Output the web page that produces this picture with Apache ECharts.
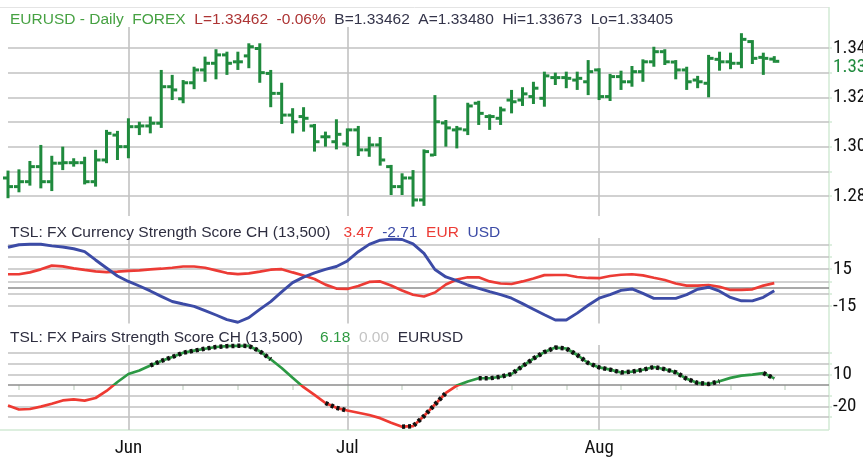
<!DOCTYPE html>
<html>
<head>
<meta charset="utf-8">
<script src="https://cdn.jsdelivr.net/npm/echarts@6/dist/echarts.min.js"></script>
<style>
html, body { margin: 0; padding: 0; background: #fff; }
#main { width: 863px; height: 462px; }
</style>
</head>
<body>
<div id="main"></div>
<script>
// trading days, 2013-05-17 .. 2013-08-30 (last 5 are empty space on the right)
var days = ['05-17','05-20','05-21','05-22','05-23','05-24','05-27','05-28','05-29','05-30','05-31',
  '06-03','06-04','06-05','06-06','06-07','06-10','06-11','06-12','06-13','06-14',
  '06-17','06-18','06-19','06-20','06-21','06-24','06-25','06-26','06-27','06-28',
  '07-01','07-02','07-03','07-04','07-05','07-08','07-09','07-10','07-11','07-12',
  '07-15','07-16','07-17','07-18','07-19','07-22','07-23','07-24','07-25','07-26',
  '07-29','07-30','07-31','08-01','08-02','08-05','08-06','08-07','08-08','08-09',
  '08-12','08-13','08-14','08-15','08-16','08-19','08-20','08-21','08-22','08-23',
  '08-26','08-27','08-28','08-29','08-30'];

var open = [1.2873,1.2838,1.2858,1.2919,1.2858,1.2933,1.2935,1.2935,1.2858,1.2946,
  1.3047,1.3000,1.3081,1.3084,1.3095,1.3243,1.3194,1.3259,1.3311,1.3338,
  1.3372,1.3344,1.3368,1.3398,1.3297,1.3216,1.3128,1.3122,1.3084,1.3040,
  1.3020,1.3011,1.3068,1.2987,1.3007,1.2919,1.2838,1.2873,1.2784,1.2966,
  1.3096,1.3068,1.3068,1.3176,1.3122,1.3115,1.3189,1.3189,1.3203,1.3196,
  1.3280,1.3280,1.3270,1.3263,1.3311,1.3203,1.3284,1.3263,1.3304,1.3344,
  1.3385,1.3343,1.3311,1.3270,1.3257,1.3354,1.3344,1.3338,1.3426,1.3362,
  1.3355];
var high = [1.2903,1.2908,1.2942,1.3007,1.2963,1.3000,1.2953,1.2959,1.2987,1.3068,
  1.3064,1.3115,1.3101,1.3122,1.3311,1.3291,1.3270,1.3324,1.3365,1.3395,
  1.3385,1.3385,1.3419,1.3419,1.3311,1.3259,1.3156,1.3160,1.3092,1.3061,
  1.3111,1.3074,1.3084,1.3040,1.3039,1.2926,1.2892,1.2905,1.2989,1.3209,
  1.3108,1.3084,1.3178,1.3186,1.3131,1.3162,1.3230,1.3241,1.3263,1.3304,
  1.3300,1.3304,1.3304,1.3351,1.3318,1.3295,1.3308,1.3327,1.3354,1.3405,
  1.3395,1.3351,1.3324,1.3287,1.3372,1.3385,1.3381,1.3460,1.3432,1.3381,
  1.3367];
var low = [1.2791,1.2815,1.2842,1.2831,1.2820,1.2905,1.2919,1.2847,1.2838,1.2933,
  1.2946,1.2953,1.3047,1.3054,1.3076,1.3189,1.3176,1.3233,1.3263,1.3273,
  1.3291,1.3311,1.3318,1.3259,1.3160,1.3092,1.3054,1.3061,1.2980,1.3000,
  1.2989,1.3000,1.2962,1.2959,1.2923,1.2804,1.2804,1.2757,1.2760,1.2962,
  1.3000,1.2993,1.3047,1.3088,1.3068,1.3088,1.3135,1.3165,1.3173,1.3162,
  1.3250,1.3237,1.3230,1.3209,1.3189,1.3185,1.3230,1.3243,1.3263,1.3324,
  1.3331,1.3273,1.3230,1.3237,1.3200,1.3308,1.3314,1.3318,1.3335,1.3291,
  1.3340];
var close = [1.2838,1.2858,1.2919,1.2858,1.2933,1.2935,1.2935,1.2858,1.2946,1.3054,
  1.3000,1.3081,1.3084,1.3095,1.3243,1.3230,1.3259,1.3311,1.3338,1.3372,
  1.3338,1.3344,1.3405,1.3300,1.3216,1.3128,1.3101,1.3115,1.3020,1.3040,
  1.3050,1.3068,1.2987,1.3007,1.2946,1.2838,1.2873,1.2784,1.2980,1.3101,
  1.3076,1.3072,1.3165,1.3135,1.3122,1.3149,1.3182,1.3214,1.3237,1.3287,
  1.3280,1.3277,1.3277,1.3304,1.3203,1.3284,1.3263,1.3304,1.3344,1.3385,
  1.3344,1.3311,1.3263,1.3263,1.3358,1.3344,1.3338,1.3435,1.3358,1.3358,
  1.3346];

// currency strength
var eur = [10.7,10.7,12.2,14.7,17.7,17.1,15.5,14.2,13.0,12.4,
  12.8,13.4,13.8,14.7,15.2,16.0,17.0,17.0,16.0,13.9,
  11.7,10.8,11.4,12.8,14.4,14.8,12.2,9.7,6.9,2.3,
  -0.9,-1.2,1.2,4.5,4.9,1.6,-2.4,-5.9,-7.3,-4.1,
  2.4,6.5,8.3,8.2,4.9,3.2,2.8,4.9,7.3,10.0,
  10.1,10.1,8.5,7.7,7.5,9.3,10.3,10.7,9.8,7.9,
  6.1,3.2,1.5,1.5,2.0,0.6,-2.0,-2.0,-1.5,1.5,
  3.47];
var usd = [32.6,34.6,35.0,35.0,33.7,32.8,31.4,29.0,22.3,15.8,
  9.3,4.9,1.2,-2.8,-7.2,-11.4,-13.4,-15.3,-18.8,-22.3,
  -26.0,-28.2,-24.5,-17.8,-11.5,-3.6,3.9,8.4,11.8,14.6,
  17.0,21.5,29.0,34.9,38.3,39.2,38.9,35.3,27.6,14.6,
  8.5,5.5,2.0,-0.7,-3.4,-5.8,-8.7,-13.1,-17.6,-22.1,
  -26.4,-26.4,-20.8,-14.4,-8.7,-5.8,-2.4,-1.2,-4.8,-8.8,
  -8.8,-8.8,-5.8,-1.4,0.2,-3.0,-8.1,-10.8,-10.9,-8.0,
  -2.71];

// pairs strength
var pairs = [-19.2,-23.0,-22.5,-20.3,-17.6,-14.5,-13.5,-14.6,-12.2,-5.6,
  2.8,10.3,13.6,18.3,22.5,26.2,30.2,32.2,34.0,35.6,
  36.4,36.8,36.6,31.7,24.1,15.9,6.7,-2.1,-9.2,-16.9,
  -21.4,-23.9,-26.0,-28.1,-31.1,-35.3,-39.1,-38.6,-29.1,-18.3,
  -7.5,-0.6,3.3,6.3,6.3,7.7,10.3,17.6,24.8,30.9,
  35.1,34.2,28.1,20.6,16.5,14.4,11.7,12.5,14.3,16.9,
  14.8,11.9,5.8,1.9,0.9,3.5,6.7,8.8,9.8,11.2,
  6.18];
// stretches marked with the black dotted overlay (first, last day index)
var signalRanges = [[13, 24], [29, 31], [36, 40], [43, 65], [69, 70]];

var priceLevels = [1.28, 1.29, 1.30, 1.31, 1.32, 1.33, 1.34];
var priceLabels = [1.28, 1.30, 1.32, 1.34];
var ccyLevels = [35, 25, 15, 5, -5, -15];
var ccyLabels = [15, -15];
var pairLevels = [30, 20, 10, -10, -20, -30];
var pairLabels = [10, -20];
var monthIndex = [11, 31, 54];
var monthNames = ['Jun', 'Jul', 'Aug'];

var GREEN = '#1f8a3d';
var GRID_C = '#c2c2c2';
var ZERO_C = '#8c8c8c';
var AXIS_C = '#d2ead5';
var NARROW = "'Liberation Sans Narrow','Roboto Condensed',Roboto,sans-serif";
var SANS = "'Liberation Sans',Arial,sans-serif";

var L = 8, R = 34;
var panels = [
  {top: 27, height: 189, min: 1.27189, max: 1.34851},
  {top: 238, height: 85.5, min: -29.2, max: 40.1},
  {top: 345, height: 85, min: -42.2, max: 37.5}
];
var axisRight = 863 - R;
var axisBottom = panels[2].top + panels[2].height;

var myChart = echarts.init(document.getElementById('main'));

function last(a) { return a[a.length - 1]; }

function gridLines(levels, zero, extra) {
  var d = levels.map(function (v) { return {yAxis: v}; });
  if (zero) d.push({yAxis: 0, lineStyle: {color: ZERO_C}});
  if (extra) d = d.concat(extra);
  return {
    silent: true, symbol: 'none', z: 1, animation: false,
    label: {show: false},
    lineStyle: {color: GRID_C, width: 1.6, type: 'solid'},
    data: d
  };
}

// marker for the last price on the right axis
var lastPriceMark = {
  yAxis: last(close),
  lineStyle: {color: 'rgba(0,0,0,0)', width: 0},
  label: {show: true, position: 'end', distance: 4, color: GREEN, fontFamily: NARROW, fontSize: 19,
    lineHeight: 15, offset: [0, -5],
    formatter: function () { return last(close).toFixed(2); }}
};

function renderBar(params, api) {
  var i = api.value(0);
  var o = api.coord([i, api.value(1)]);
  var h = api.coord([i, api.value(2)]);
  var l = api.coord([i, api.value(3)]);
  var c = api.coord([i, api.value(4)]);
  var x = o[0];
  var st = {fill: GREEN};
  return {type: 'group', children: [
    {type: 'rect', shape: {x: x - 1.5, y: h[1], width: 3, height: l[1] - h[1]}, style: st},
    {type: 'rect', shape: {x: x - 5, y: o[1] - 1.5, width: 4, height: 3}, style: st},
    {type: 'rect', shape: {x: x + 1, y: c[1] - 1.5, width: 4, height: 3}, style: st}
  ]};
}

var ohlc = close.map(function (c, i) { return [i, open[i], high[i], low[i], c]; });
var dots = pairs.map(function (v, i) {
  var on = signalRanges.some(function (r) { return i >= r[0] && i <= r[1]; });
  return on ? v : null;
});

function xAxisFor(idx) {
  var isBottom = idx === 2;
  return {
    type: 'category', gridIndex: idx, data: days, boundaryGap: false,
    axisLine: {show: false},
    axisTick: {show: isBottom, interval: function (i) { return i % 5 === 1; },
      length: 5, inside: false, lineStyle: {color: '#cfdccf', width: 1.5}},
    axisLabel: {show: isBottom, interval: function (i) { return monthIndex.indexOf(i) >= 0; },
      formatter: function (v, i) { return monthNames[monthIndex.indexOf(i)] || ''; },
      color: '#111', fontFamily: NARROW, fontSize: 19, margin: 9},
    splitLine: {show: true, interval: function (i) { return monthIndex.indexOf(i) >= 0; },
      lineStyle: {color: GRID_C, width: 1.6}}
  };
}

function yAxisFor(idx, ticks, labels, fmt) {
  var p = panels[idx];
  return {
    type: 'value', gridIndex: idx, position: 'right', min: p.min, max: p.max,
    splitLine: {show: false},
    axisLine: {show: false},
    axisTick: {show: true, customValues: ticks, length: 3, lineStyle: {color: AXIS_C, width: 1.5}},
    axisLabel: {customValues: labels, color: '#111', fontFamily: NARROW, fontSize: 19, margin: 4,
      lineHeight: 15,
      formatter: function (v) {
        for (var k = 0; k < labels.length; k++) {
          if (Math.abs(v - labels[k]) < 1e-6) return fmt(labels[k]);
        }
        return '';
      }}
  };
}

option = {
  animation: false,
  backgroundColor: '#fff',
  title: [
    {left: 5, top: 7, textStyle: {fontFamily: SANS, fontSize: 15.5, fontWeight: 'normal',
      rich: {g: {color: '#46a142', fontFamily: SANS, fontSize: 15.5},
             r: {color: '#ad3434', fontFamily: SANS, fontSize: 15.5},
             k: {color: '#34344a', fontFamily: SANS, fontSize: 15.5}}},
     text: '{g|EURUSD - Daily  FOREX}  {r|L=1.33462  -0.06%}  {k|B=1.33462  A=1.33480  Hi=1.33673  Lo=1.33405}'},
    {left: 5, top: 220, textStyle: {fontFamily: SANS, fontSize: 15.5, fontWeight: 'normal',
      rich: {k: {color: '#2e2e40', fontFamily: SANS, fontSize: 15.5},
             r: {color: '#ec3b35', fontFamily: SANS, fontSize: 15.5},
             b: {color: '#3c4ba6', fontFamily: SANS, fontSize: 15.5}}},
     text: '{k|TSL: FX Currency Strength Score CH (13,500)}   {r|' + last(eur).toFixed(2) + '}  {b|' +
       last(usd).toFixed(2) + '}  {r|EUR}  {b|USD}'},
    {left: 5, top: 325, textStyle: {fontFamily: SANS, fontSize: 15.5, fontWeight: 'normal',
      rich: {k: {color: '#2e2e40', fontFamily: SANS, fontSize: 15.5},
             g: {color: '#2f9a42', fontFamily: SANS, fontSize: 15.5},
             s: {color: '#c4c4c4', fontFamily: SANS, fontSize: 15.5}}},
     text: '{k|TSL: FX Pairs Strength Score CH (13,500)}    {g|' + last(pairs).toFixed(2) +
       '}  {s|0.00}  {k|EURUSD}'}
  ],
  grid: panels.map(function (p) {
    return {left: L, right: R, top: p.top, height: p.height, outerBoundsMode: 'none', containLabel: false};
  }),
  xAxis: [xAxisFor(0), xAxisFor(1), xAxisFor(2)],
  yAxis: [
    yAxisFor(0, priceLevels, priceLabels, function (v) { return v.toFixed(2); }),
    yAxisFor(1, ccyLevels, ccyLabels, function (v) { return String(v); }),
    yAxisFor(2, pairLevels, pairLabels, function (v) { return String(v); })
  ],
  visualMap: [{
    type: 'piecewise', show: false, seriesIndex: 6, dimension: 1,
    pieces: [{gte: -1000, lt: 0, color: '#ee3a32'}, {gte: 0, lte: 1000, color: '#2c9944'}]
  }],
  graphic: [
    {type: 'line', silent: true, shape: {x1: 0, y1: 7.5, x2: axisRight, y2: 7.5},
      style: {stroke: '#e4e4e4', lineWidth: 1}},
    {type: 'line', silent: true, shape: {x1: axisRight, y1: 7, x2: axisRight, y2: axisBottom},
      style: {stroke: AXIS_C, lineWidth: 1.5}},
    {type: 'line', silent: true, shape: {x1: 0, y1: axisBottom, x2: axisRight, y2: axisBottom},
      style: {stroke: AXIS_C, lineWidth: 1.5}}
  ],
  series: [
    {type: 'line', xAxisIndex: 0, yAxisIndex: 0, data: [], silent: true,
      markLine: gridLines(priceLevels, false, [lastPriceMark])},
    {type: 'custom', name: 'EURUSD', xAxisIndex: 0, yAxisIndex: 0, z: 10, clip: false,
      renderItem: renderBar, encode: {x: 0, y: [1, 2, 3, 4]}, data: ohlc},
    {type: 'line', xAxisIndex: 1, yAxisIndex: 1, data: [], silent: true, markLine: gridLines(ccyLevels, true)},
    {type: 'line', name: 'EUR', xAxisIndex: 1, yAxisIndex: 1, z: 10, clip: false, data: eur,
      showSymbol: false, lineStyle: {color: '#ec3b35', width: 2.7}},
    {type: 'line', name: 'USD', xAxisIndex: 1, yAxisIndex: 1, z: 10, clip: false, data: usd,
      showSymbol: false, lineStyle: {color: '#3c4ba6', width: 2.9}},
    {type: 'line', xAxisIndex: 2, yAxisIndex: 2, data: [], silent: true, markLine: gridLines(pairLevels, true)},
    {type: 'line', name: 'EURUSD', xAxisIndex: 2, yAxisIndex: 2, z: 10, clip: false, data: pairs,
      showSymbol: false, lineStyle: {width: 2.7}},
    {type: 'line', name: 'signal', xAxisIndex: 2, yAxisIndex: 2, z: 11, clip: false, data: dots,
      showSymbol: false, connectNulls: false, lineStyle: {color: '#111', width: 4.5, type: [3, 3]}}
  ]
};

myChart.setOption(option);
</script>
</body>
</html>
